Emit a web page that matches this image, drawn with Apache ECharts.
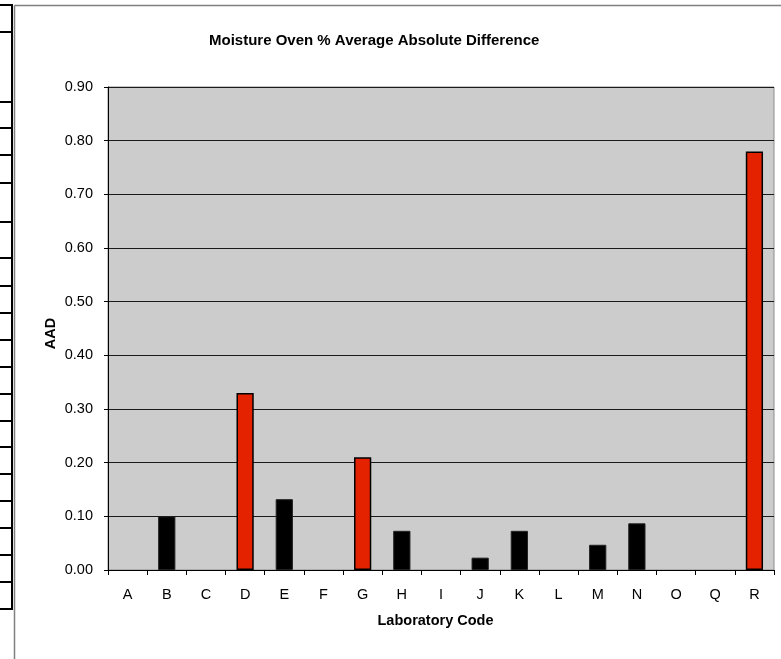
<!DOCTYPE html>
<html>
<head>
<meta charset="utf-8">
<script src="https://cdn.jsdelivr.net/npm/echarts@6/dist/echarts.min.js"></script>
<style>
  html, body { margin: 0; padding: 0; background: #fff; }
  #chart { width: 781px; height: 659px; }
</style>
</head>
<body>
<div id="chart"></div>
<script>
// ---- data ----
const categories = ['A','B','C','D','E','F','G','H','I','J','K','L','M','N','O','Q','R'];
const aadValues  = [null, 0.10, null, 0.33, 0.132, null, 0.21, 0.073, null, 0.023, 0.073, null, 0.047, 0.087, null, null, 0.78];
const flaggedLabs = ['D','G','R'];
const yTickMin = 0, yTickMax = 0.9, yTickStep = 0.1;
const titleText = 'Moisture Oven % Average Absolute Difference';
const xAxisTitle = 'Laboratory Code';
const yAxisTitle = 'AAD';
// left-margin table rule rows (decoration)
const ruleRows = [5, 32, 102, 128, 155, 183, 222, 258, 286, 313, 340, 367, 394, 421, 447, 474, 501, 528, 555, 582, 609];

const FONT = 'Liberation Sans, Arial, sans-serif';
const chart = echarts.init(document.getElementById('chart'), null, { renderer: 'canvas' });

const barData = aadValues.map((v, i) => {
  const flagged = flaggedLabs.includes(categories[i]);
  return {
    value: v,
    itemStyle: flagged
      ? { color: '#e52200', borderColor: '#000', borderWidth: 1.5 }
      : { color: '#000', borderColor: '#222', borderWidth: 1 }
  };
});

const graphics = [];
graphics.push({ type: 'line', shape: { x1: 12, y1: 4, x2: 12, y2: 610 }, style: { stroke: '#000', lineWidth: 2 }, silent: true });
ruleRows.forEach(y => {
  graphics.push({ type: 'line', shape: { x1: 0, y1: y, x2: 12, y2: y }, style: { stroke: '#000', lineWidth: 2 }, silent: true });
});
graphics.push({ type: 'line', shape: { x1: 14.5, y1: 5.5, x2: 14.5, y2: 659 }, style: { stroke: '#808080', lineWidth: 1.5 }, silent: true });
graphics.push({ type: 'line', shape: { x1: 14.5, y1: 5.5, x2: 781, y2: 5.5 }, style: { stroke: '#808080', lineWidth: 1.5 }, silent: true });

chart.setOption({
  backgroundColor: '#fff',
  animation: false,
  title: {
    text: titleText,
    left: 204,
    top: 28,
    textStyle: { fontFamily: FONT, fontSize: 15, fontWeight: 'bold', color: '#000' }
  },
  grid: {
    left: 108, right: 7, top: 87, bottom: 89,
    show: true,
    backgroundColor: '#cccccc',
    borderColor: '#8c8c8c',
    borderWidth: 1
  },
  xAxis: {
    type: 'category',
    data: categories,
    boundaryGap: true,
    axisLine: { show: true, lineStyle: { color: '#000', width: 1 } },
    axisTick: { show: true, alignWithLabel: false, length: 5, lineStyle: { color: '#000' } },
    axisLabel: { margin: 17, fontFamily: FONT, fontSize: 14.5, color: '#000' },
    name: xAxisTitle,
    nameLocation: 'middle',
    nameGap: 43,
    nameMoveOverlap: false,
    nameTextStyle: { fontFamily: FONT, fontSize: 14.5, fontWeight: 'bold', color: '#000', padding: [0, 11, 0, 0] }
  },
  yAxis: {
    type: 'value',
    min: yTickMin,
    max: yTickMax,
    interval: yTickStep,
    axisLine: { show: true, lineStyle: { color: '#000', width: 1 } },
    axisTick: { show: true, length: 4, lineStyle: { color: '#000' } },
    axisLabel: { margin: 15, fontFamily: FONT, fontSize: 14.5, color: '#000', formatter: v => v.toFixed(2) },
    splitLine: { show: true, lineStyle: { color: '#1a1a1a', width: 1 } },
    name: yAxisTitle,
    nameLocation: 'middle',
    nameRotate: 90,
    nameGap: 50,
    nameMoveOverlap: false,
    nameTextStyle: { fontFamily: FONT, fontSize: 14.5, fontWeight: 'bold', color: '#000', padding: [0, 10, 0, 0] }
  },
  series: [{
    type: 'bar',
    data: barData,
    barWidth: '44%'
  }],
  graphic: graphics
});
</script>
</body>
</html>
